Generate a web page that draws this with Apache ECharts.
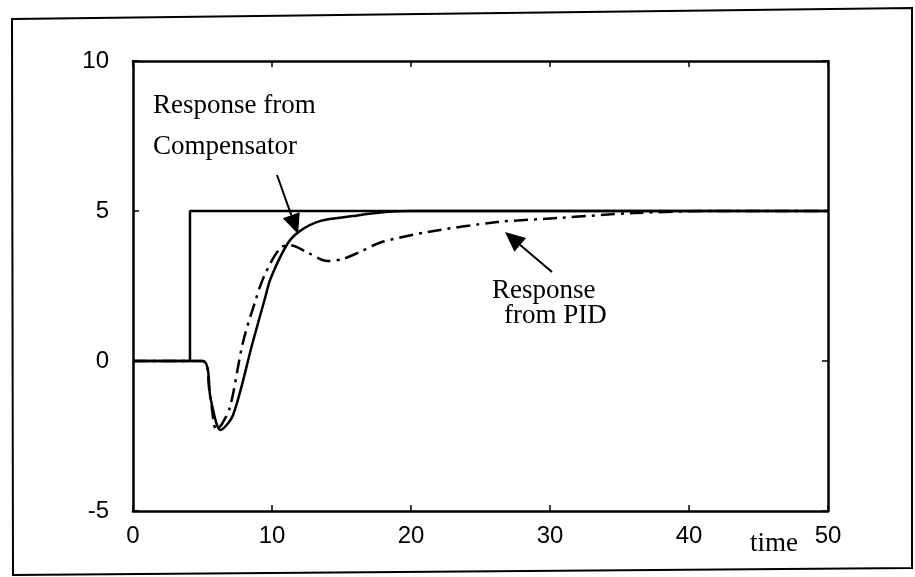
<!DOCTYPE html>
<html>
<head>
<meta charset="utf-8">
<script src="https://cdn.jsdelivr.net/npm/echarts@6/dist/echarts.min.js"></script>
<style>html,body{margin:0;padding:0;background:#fff}#c{width:915px;height:577px}</style>
</head>
<body>
<div id="c"></div>
<script>
// ---- data ----
const xTicks = [0, 10, 20, 30, 40, 50];
const yTicks = [-5, 0, 5, 10];
const tStep = [0, 4.1, 4.1, 50];
const yStep = [0, 0, 5, 5];
const tComp = [0, 5, 5.6, 6.3, 7.2, 8.6, 9.5, 9.9, 11.1, 12, 13.5, 15.8, 17.8, 20, 25, 30, 40, 50];
const yComp = [0, 0, -1.3, -2.3, -1.8, 0.6, 2.1, 2.75, 3.9, 4.33, 4.67, 4.83, 4.95, 5.0, 5.0, 5.0, 5.0, 5.0];
const tPID = [0, 5, 5.5, 6.0, 6.4, 7.0, 7.9, 8.8, 9.5, 10.7, 11.4, 12.5, 14, 15.1, 16.3, 17.8, 21.2, 26.2, 30.7, 36, 42, 50];
const yPID = [0, 0, -1.0, -2.3, -2.1, -1.5, 0.6, 2.0, 2.9, 3.8, 3.85, 3.63, 3.33, 3.4, 3.63, 3.95, 4.3, 4.63, 4.77, 4.93, 5.0, 5.0];

const pairs = (t, y) => t.map((v, i) => [v, y[i]]);
const chart = echarts.init(document.getElementById('c'));
const black = '#000';
const serif = '"Liberation Serif", "Times New Roman", serif';
const sans = '"Liberation Sans", Arial, sans-serif';

function frameAxis(extra) {
  return Object.assign({
    type: 'value',
    axisLine: { show: true, onZero: false, lineStyle: { color: black, width: 2.5 } },
    axisTick: { show: true, inside: true, length: 6, lineStyle: { color: black, width: 1.5 } },
    splitLine: { show: false }
  }, extra);
}

function arrow(tail, tip, headLen, headW) {
  const dx = tip[0] - tail[0], dy = tip[1] - tail[1];
  const L = Math.hypot(dx, dy), ux = dx / L, uy = dy / L;
  const bx = tip[0] - ux * headLen, by = tip[1] - uy * headLen;
  const px = -uy * headW / 2, py = ux * headW / 2;
  return [
    { type: 'line', shape: { x1: tail[0], y1: tail[1], x2: bx, y2: by }, style: { stroke: black, lineWidth: 2 } },
    { type: 'polygon', shape: { points: [[tip[0], tip[1]], [bx + px, by + py], [bx - px, by - py]] }, style: { fill: black } }
  ];
}

chart.setOption({
  animation: false,
  backgroundColor: '#fff',
  grid: { left: 133, right: 87, top: 61, bottom: 66, show: false },
  xAxis: [
    frameAxis({ min: xTicks[0], max: xTicks[xTicks.length - 1], interval: 10, position: 'bottom',
      axisLabel: { color: black, fontFamily: sans, fontSize: 24, margin: 13 } }),
    frameAxis({ min: xTicks[0], max: xTicks[xTicks.length - 1], interval: 10, position: 'top',
      axisLabel: { show: false } })
  ],
  yAxis: [
    frameAxis({ min: yTicks[0], max: yTicks[yTicks.length - 1], interval: 5, position: 'left',
      axisLabel: { color: black, fontFamily: sans, fontSize: 24, margin: 24 } }),
    frameAxis({ min: yTicks[0], max: yTicks[yTicks.length - 1], interval: 5, position: 'right',
      axisLabel: { show: false } })
  ],
  series: [
    { type: 'line', name: 'Input', data: pairs(tStep, yStep), showSymbol: false,
      lineStyle: { color: black, width: 2.5 } },
    { type: 'line', name: 'Compensator', data: pairs(tComp, yComp), showSymbol: false, smooth: 0.3,
      lineStyle: { color: black, width: 2.5 } },
    { type: 'line', name: 'PID', data: pairs(tPID, yPID), showSymbol: false, smooth: 0.3,
      lineStyle: { color: black, width: 2.5, type: [14, 6, 3, 6] } }
  ],
  graphic: [
    { type: 'polygon', shape: { points: [[12, 19], [912, 8], [912, 568], [13, 575]] }, style: { fill: 'none', stroke: black, lineWidth: 2 } },
    { type: 'text', left: 153, top: 92, style: { text: 'Response from', font: '27px ' + serif, fill: black } },
    { type: 'text', left: 153, top: 133, style: { text: 'Compensator', font: '27px ' + serif, fill: black } },
    { type: 'text', left: 492, top: 277, style: { text: 'Response', font: '27px ' + serif, fill: black } },
    { type: 'text', left: 504, top: 302, style: { text: 'from PID', font: '27px ' + serif, fill: black } },
    { type: 'text', left: 750, top: 530, style: { text: 'time', font: '27px ' + serif, fill: black } },
    ...arrow([277, 175], [298, 234], 20, 18),
    ...arrow([552, 272], [505, 232], 20, 18)
  ]
});
</script>
</body>
</html>
